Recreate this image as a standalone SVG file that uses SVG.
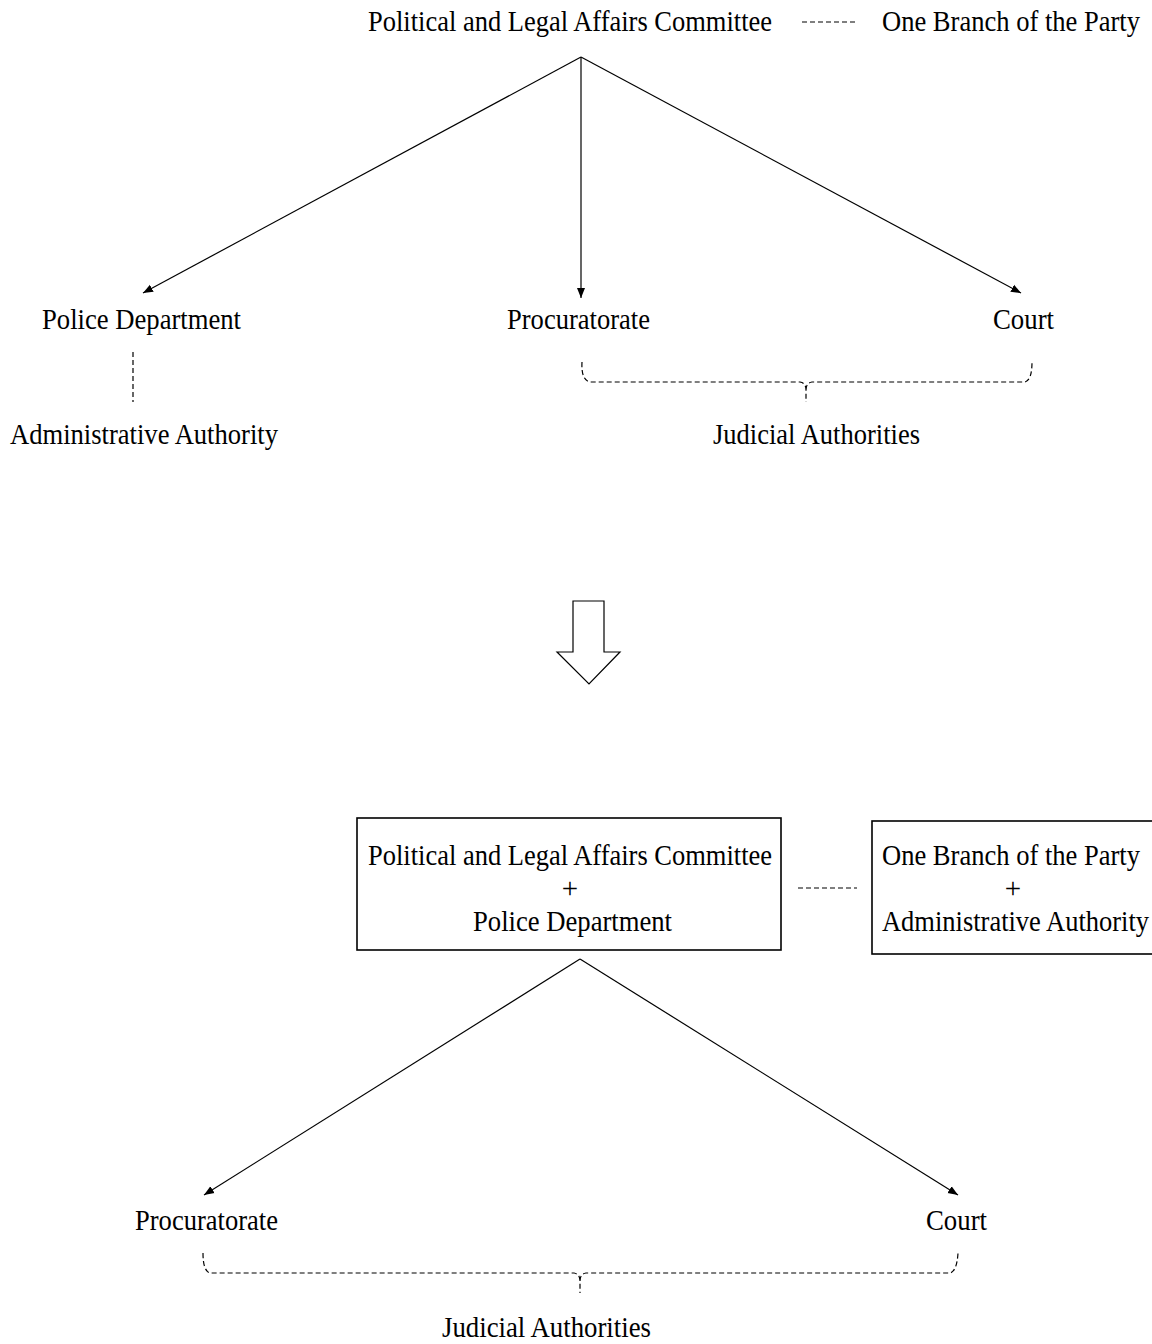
<svg xmlns="http://www.w3.org/2000/svg" width="1152" height="1344" viewBox="0 0 1152 1344">
<defs>
<marker id="arr" viewBox="0 0 10 10" refX="10" refY="5" markerWidth="10" markerHeight="10" markerUnits="userSpaceOnUse" orient="auto">
<path d="M0,1 L10,5 L0,9 Z" fill="#000"/>
</marker>
<style>
text{font-family:"Liberation Serif","Times New Roman",serif;font-size:29px;fill:#000}
.m{text-anchor:middle}
.ln{stroke:#000;stroke-width:1.2;fill:none}
.ds{stroke:#000;stroke-width:1.2;fill:none;stroke-dasharray:5,3}
.bx{stroke:#000;stroke-width:1.6;fill:#fff}
</style>
</defs>
<rect width="1152" height="1344" fill="#fff"/>
<g id="top-committee"><text x="368" y="31" textLength="404" lengthAdjust="spacingAndGlyphs">Political and Legal Affairs Committee</text></g>
<g id="top-party"><text x="882" y="31" textLength="258" lengthAdjust="spacingAndGlyphs">One Branch of the Party</text></g>
<g id="police"><text x="42" y="329" textLength="199" lengthAdjust="spacingAndGlyphs">Police Department</text></g>
<g id="procuratorate1"><text x="507" y="329" textLength="143" lengthAdjust="spacingAndGlyphs">Procuratorate</text></g>
<g id="court1"><text x="993" y="329" textLength="61" lengthAdjust="spacingAndGlyphs">Court</text></g>
<g id="admin1"><text x="10" y="444" textLength="268" lengthAdjust="spacingAndGlyphs">Administrative Authority</text></g>
<g id="judicial1"><text x="713" y="444" textLength="207" lengthAdjust="spacingAndGlyphs">Judicial Authorities</text></g>
<g id="transition"><path class="ln" d="M573,601 H604 V652 H620 L589,684 L557,652 H573 Z" fill="#fff"/></g>
<g id="box-committee">
<rect class="bx" x="357" y="818" width="424" height="132"/>
<text x="368" y="865" textLength="404" lengthAdjust="spacingAndGlyphs">Political and Legal Affairs Committee</text>
<text class="m" x="570" y="898">+</text>
<text x="473" y="931" textLength="199" lengthAdjust="spacingAndGlyphs">Police Department</text>
</g>
<g id="box-party">
<rect class="bx" x="872" y="821" width="290" height="133"/>
<text x="882" y="865" textLength="258" lengthAdjust="spacingAndGlyphs">One Branch of the Party</text>
<text class="m" x="1013" y="898">+</text>
<text x="882" y="931" textLength="267" lengthAdjust="spacingAndGlyphs">Administrative Authority</text>
</g>
<g id="procuratorate2"><text x="135" y="1230" textLength="143" lengthAdjust="spacingAndGlyphs">Procuratorate</text></g>
<g id="court2"><text x="926" y="1230" textLength="61" lengthAdjust="spacingAndGlyphs">Court</text></g>
<g id="judicial2"><text x="442" y="1337" textLength="209" lengthAdjust="spacingAndGlyphs">Judicial Authorities</text></g>
<g id="connectors">
<line class="ds" x1="802" y1="22" x2="858" y2="22"/>
<line class="ln" x1="581" y1="57" x2="143" y2="293" marker-end="url(#arr)"/>
<line class="ln" x1="581" y1="57" x2="581" y2="298" marker-end="url(#arr)"/>
<line class="ln" x1="581" y1="57" x2="1021" y2="293" marker-end="url(#arr)"/>
<line class="ds" x1="133" y1="352" x2="133" y2="402"/>
<path class="ds" d="M582,362 Q581,380 590,382 H800 Q806,383 806,390 V402 M806,390 Q806,383 812,382 H1025 Q1032,380 1032,362"/>
<line class="ds" x1="798" y1="888" x2="857" y2="888"/>
<line class="ln" x1="580" y1="959" x2="204" y2="1195" marker-end="url(#arr)"/>
<line class="ln" x1="580" y1="959" x2="958" y2="1195" marker-end="url(#arr)"/>
<path class="ds" d="M203,1253 Q203,1271 210,1273 H574 Q580,1274 580,1281 V1293 M580,1281 Q580,1274 586,1273 H950 Q957,1271 958,1253"/>
</g>
</svg>
